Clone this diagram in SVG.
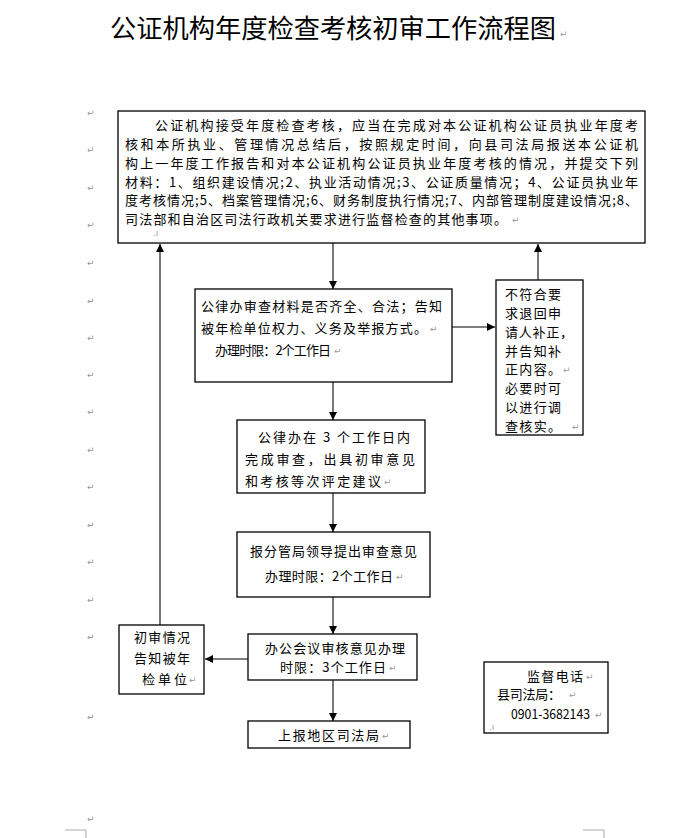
<svg xmlns="http://www.w3.org/2000/svg" width="687" height="838" viewBox="0 0 687 838">
<defs>
<marker id="ah" viewBox="0 0 10 10" refX="10" refY="5" markerWidth="8" markerHeight="8" markerUnits="userSpaceOnUse" orient="auto">
<path d="M0,0 L10,5 L0,10 z" fill="#000"/>
</marker>
</defs>
<style>
.box{fill:#fff;stroke:#000;stroke-width:1.3}
.t{font-family:"Noto Sans CJK SC","Noto Sans",sans-serif;font-size:13px;fill:#000}
.ttl{font-family:"Noto Sans CJK SC","Noto Sans",sans-serif;font-size:26px;fill:#000}
.pm{font-family:"DejaVu Sans",sans-serif;font-size:9px;fill:#999}
.c{fill:none;stroke:#555;stroke-width:1.6;marker-end:url(#ah)}
</style>
<rect width="687" height="838" fill="#fff"/>
<text class="ttl" x="110" y="38" textLength="446" lengthAdjust="spacingAndGlyphs">公证机构年度检查考核初审工作流程图</text>
<text class="pm" x="560" y="37">↵</text>

<g id="marks">
<text class="pm" x="87" y="116">↵</text>
<text class="pm" x="87" y="153">↵</text>
<text class="pm" x="87" y="191">↵</text>
<text class="pm" x="87" y="228">↵</text>
<text class="pm" x="87" y="266">↵</text>
<text class="pm" x="87" y="304">↵</text>
<text class="pm" x="87" y="341">↵</text>
<text class="pm" x="87" y="378">↵</text>
<text class="pm" x="87" y="415">↵</text>
<text class="pm" x="87" y="453">↵</text>
<text class="pm" x="87" y="490">↵</text>
<text class="pm" x="87" y="528">↵</text>
<text class="pm" x="87" y="565">↵</text>
<text class="pm" x="87" y="603">↵</text>
<text class="pm" x="87" y="640">↵</text>
<text class="pm" x="87" y="720">↵</text>
<text class="pm" x="87" y="822">↵</text>
<path d="M65,830 H86 V838 M583,830 H604 V838" fill="none" stroke="#aaa" stroke-width="1"/>
</g>

<g id="connectors">
<line class="c" x1="333" y1="243" x2="333" y2="289"/>
<line class="c" x1="452" y1="327" x2="495" y2="327"/>
<line class="c" x1="538" y1="280" x2="538" y2="244"/>
<line class="c" x1="333" y1="382" x2="333" y2="420"/>
<line class="c" x1="333" y1="493" x2="333" y2="532"/>
<line class="c" x1="333" y1="597" x2="333" y2="634"/>
<line class="c" x1="248" y1="659" x2="205" y2="659"/>
<line class="c" x1="333" y1="680" x2="333" y2="721"/>
<line class="c" x1="160" y1="625" x2="160" y2="244"/>
</g>

<g id="n1">
<rect class="box" x="118" y="111" width="527" height="132"/>
<text class="t" x="155" y="130" textLength="483" lengthAdjust="spacing">公证机构接受年度检查考核，应当在完成对本公证机构公证员执业年度考</text>
<text class="t" x="125" y="149" textLength="513" lengthAdjust="spacing">核和本所执业、管理情况总结后，按照规定时间，向县司法局报送本公证机</text>
<text class="t" x="125" y="168" textLength="513" lengthAdjust="spacing">构上一年度工作报告和对本公证机构公证员执业年度考核的情况，并提交下列</text>
<text class="t" x="125" y="187" textLength="513" lengthAdjust="spacing">材料：1、组织建设情况;2、执业活动情况;3、公证质量情况；4、公证员执业年</text>
<text class="t" x="125" y="205" textLength="513" lengthAdjust="spacing">度考核情况;5、档案管理情况;6、财务制度执行情况;7、内部管理制度建设情况;8、</text>
<text class="t" x="125" y="224" textLength="382" lengthAdjust="spacing">司法部和自治区司法行政机关要求进行监督检查的其他事项。</text>
<text class="pm" x="512" y="223">↵</text>
<text class="pm" x="153" y="236">.ı</text>
</g>

<g id="n2">
<rect class="box" x="195" y="289" width="257" height="93"/>
<text class="t" x="201" y="311" textLength="241" lengthAdjust="spacing">公律办审查材料是否齐全、合法；告知</text>
<text class="t" x="201" y="333" textLength="226" lengthAdjust="spacing">被年检单位权力、义务及举报方式。</text>
<text class="pm" x="430" y="332">↵</text>
<text class="t" x="215" y="355" textLength="116" lengthAdjust="spacing">办理时限：2个工作日</text>
<text class="pm" x="334" y="354">↵</text>
</g>

<g id="n3">
<rect class="box" x="496" y="280" width="87" height="155"/>
<text class="t" x="505" y="299" textLength="56" lengthAdjust="spacing">不符合要</text>
<text class="t" x="505" y="318" textLength="56" lengthAdjust="spacing">求退回申</text>
<text class="t" x="505" y="337" textLength="68" lengthAdjust="spacing">请人补正，</text>
<text class="t" x="505" y="356" textLength="56" lengthAdjust="spacing">并告知补</text>
<text class="t" x="505" y="374" textLength="56" lengthAdjust="spacing">正内容。</text>
<text class="pm" x="563" y="373">↵</text>
<text class="t" x="505" y="393" textLength="56" lengthAdjust="spacing">必要时可</text>
<text class="t" x="505" y="412" textLength="56" lengthAdjust="spacing">以进行调</text>
<text class="t" x="505" y="431" textLength="56" lengthAdjust="spacing">查核实。</text>
<text class="pm" x="572" y="430">↵</text>
</g>

<g id="n4">
<rect class="box" x="237" y="420" width="188" height="73"/>
<text class="t" x="258" y="442" textLength="152" lengthAdjust="spacing">公律办在 3 个工作日内</text>
<text class="t" x="245" y="464" textLength="170" lengthAdjust="spacing">完成审查，出具初审意见</text>
<text class="t" x="245" y="486" textLength="136" lengthAdjust="spacing">和考核等次评定建议</text>
<text class="pm" x="384" y="485">↵</text>
</g>

<g id="n5">
<rect class="box" x="237" y="532" width="193" height="65"/>
<text class="t" x="250" y="556" textLength="167" lengthAdjust="spacing">报分管局领导提出审查意见</text>
<text class="t" x="265" y="581" textLength="128" lengthAdjust="spacing">办理时限：2个工作日</text>
<text class="pm" x="396" y="580">↵</text>
</g>

<g id="n6">
<rect class="box" x="248" y="634" width="169" height="46"/>
<text class="t" x="265" y="653" textLength="140" lengthAdjust="spacing">办公会议审核意见办理</text>
<text class="t" x="280" y="672" textLength="106" lengthAdjust="spacing">时限：3个工作日</text>
<text class="pm" x="389" y="671">↵</text>
</g>

<g id="n7">
<rect class="box" x="119" y="625" width="85" height="69"/>
<text class="t" x="134" y="642" textLength="56" lengthAdjust="spacing">初审情况</text>
<text class="t" x="134" y="663" textLength="56" lengthAdjust="spacing">告知被年</text>
<text class="t" x="142" y="684" textLength="45" lengthAdjust="spacing">检单位</text>
<text class="pm" x="189" y="683">↵</text>
</g>

<g id="n8">
<rect class="box" x="248" y="721" width="162" height="27"/>
<text class="t" x="278" y="740" textLength="101" lengthAdjust="spacing">上报地区司法局</text>
<text class="pm" x="382" y="739">↵</text>
</g>

<g id="n9">
<rect class="box" x="484" y="662" width="124" height="71"/>
<text class="t" x="527" y="681" textLength="56" lengthAdjust="spacing">监督电话</text>
<text class="pm" x="586" y="680">↵</text>
<text class="t" x="497" y="699" textLength="64" lengthAdjust="spacing">县司法局：</text>
<text class="pm" x="569" y="698">↵</text>
<text class="t" x="511" y="719" textLength="79" lengthAdjust="spacingAndGlyphs">0901-3682143</text>
<text class="pm" x="595" y="718">↵</text>
<text class="pm" x="489" y="730">.ı</text>
</g>
</svg>
